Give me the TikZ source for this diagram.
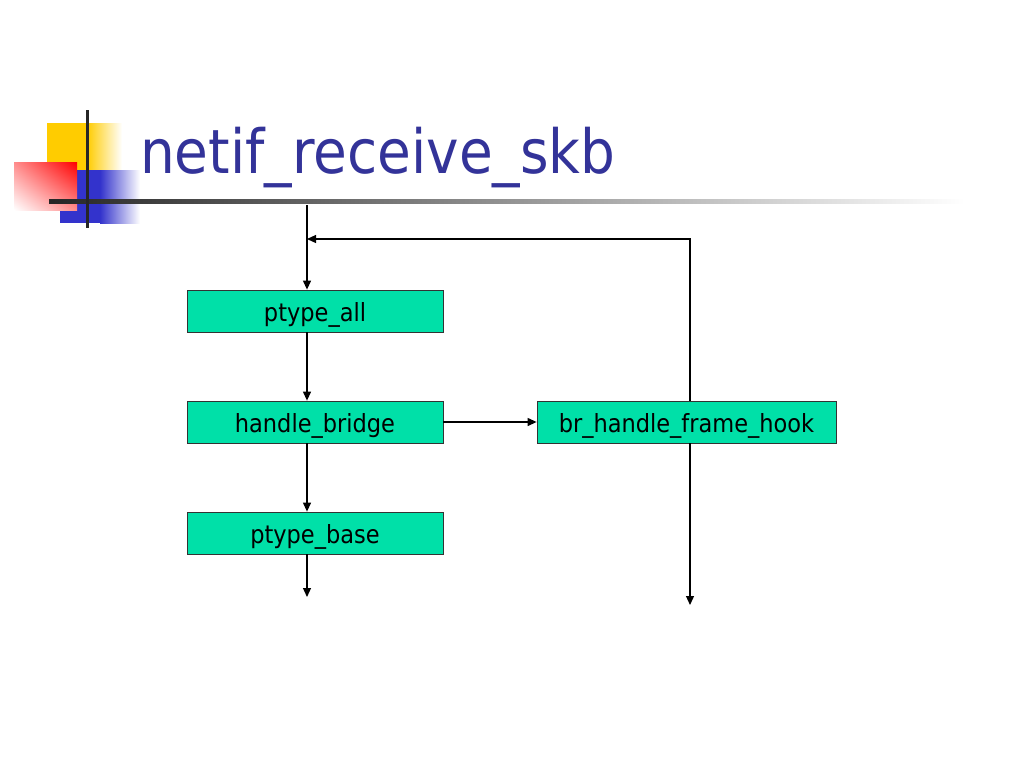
\documentclass[tikz,border=0pt]{standalone}
\usepackage{fontspec}
\setmainfont{DejaVu Sans Condensed}
\usetikzlibrary{arrows.meta,shadings}
\definecolor{titleblue}{RGB}{51,51,153}
\definecolor{boxgreen}{RGB}{0,224,168}
\definecolor{logoyellow}{RGB}{255,204,0}
\definecolor{logoblue}{RGB}{51,51,204}
\begin{document}
\begin{tikzpicture}[x=1pt,y=-1pt,
  fbox/.style={draw=black!80, line width=0.8pt, fill=boxgreen, minimum height=42pt, inner sep=0pt, text height=22pt, text depth=1pt, font=\fontsize{25}{30}\selectfont},
  conn/.style={draw=black, line width=1.2pt, -{Triangle[length=9pt,width=8pt]}}]
\useasboundingbox (0,0) rectangle (1024,768);
\fill[white] (0,0) rectangle (1024,768);
% logo
\fill[logoyellow] (47,123) rectangle (87,172);
\shade[left color=logoyellow, right color=white] (87,123) rectangle (122,172);
\fill[logoblue] (60,170) rectangle (100,223);
\shade[left color=logoblue, right color=white] (100,170) rectangle (140,223);
\shade[upper right=red, upper left=red!45!white, lower right=red!45!white, lower left=white] (14,162) rectangle (77,210);
\shade[left color=black!85, right color=white] (49,199) rectangle (965,203.5);
\fill[black!85] (85.5,110) rectangle (89,228);
% title
\node[anchor=base west, text=titleblue, font=\fontsize{61}{70}\selectfont, inner sep=0pt] (title) at (140,173) {netif\_receive\_skb};
% boxes
\node[fbox, minimum width=256pt] (all) at (315,311) {ptype\_all};
\node[fbox, minimum width=256pt] (bridge) at (315,422) {handle\_bridge};
\node[fbox, minimum width=256pt] (base) at (315,533) {ptype\_base};
\node[fbox, minimum width=299pt] (hook) at (686.5,422) {br\_handle\_frame\_hook};
\coordinate (top) at (307,205);
\coordinate (join) at (307,239);
\coordinate (corner) at (690,239);
\coordinate (end1) at (307,597);
\coordinate (end2) at (690,605);
\draw[conn] (top) -- (all.north -| top);
\draw[conn] (all.south -| top) -- (bridge.north -| top);
\draw[conn] (bridge.south -| top) -- (base.north -| top);
\draw[conn] (base.south -| top) -- (end1);
\draw[conn] (bridge.east) -- (hook.west);
\draw[conn] (hook.north -| corner) -- (corner) -- (join);
\draw[conn] (hook.south -| corner) -- (end2);
\end{tikzpicture}
\end{document}
